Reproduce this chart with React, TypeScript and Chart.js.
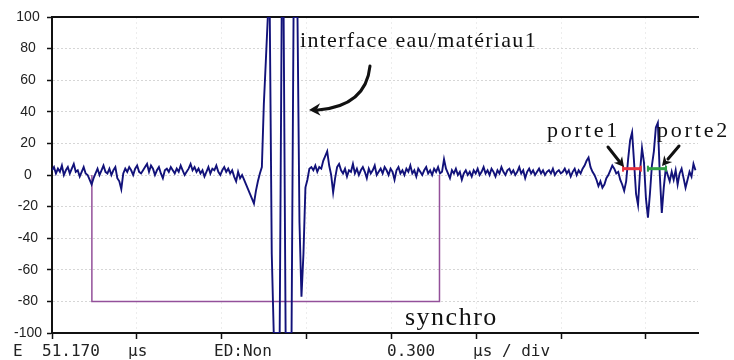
import React, { useEffect, useRef } from 'react';
import { Chart, registerables } from 'chart.js';

Chart.register(...registerables);

// ---- data ----
const startUs = 51.17;
const sampleStepUs = 0.007;
const endUs = 53.454;
const usPerDiv = 0.3;

const divisionTicks = [51.17, 51.47, 51.77, 52.07, 52.37, 52.67, 52.97, 53.27];
const amplitudeTicks = [-100, -80, -60, -40, -20, 0, 20, 40, 60, 80, 100];

// A-scan amplitude (%), one value per sample
const amplitude: number[] = [
  3, 5, 1, 4, 2, 6, 0, 3, 5, 1,
  4, 7, 2, 3, -1, 2, 5, 1, 0, -3,
  -6, -2, 1, 4, 0, 3, 6, 2, 1, 4,
  0, 3, 5, -2, -4, -9, 1, 4, 2, 5,
  3, 0, 4, 6, 2, 1, 3, 5, 7, 2,
  6, 4, 0, 3, 5, 1, -2, 3, 4, 2,
  5, 3, 1, 4, 2, 6, 3, 0, 2, 4,
  7, 3, 5, 2, 4, 1, 3, -1, 2, 5,
  1, 4, 3, 6, 2, 0, 3, 5, 2, 4,
  1, 3, -1, -4, 2,
  -2, 0, -3, -6, -9, -12, -15, -18, -10, -4,
  1, 5, 45, 72, 100, 100, -50, -100, -100, -100,
  -100, 100, 100, -100, -100, -100, -100, 100, 100, 100,
  -30, -77, -50, -8, -3, 4,
  5, 3, 6, 2, 5, 4, 9, 12, 15, 6,
  0, -11, -2, 5, 7, 3, 1, 4, -1, 3,
  2, 7, 1, 4, 0, 3, 5, 2, -2, 4,
  1, 3, 6, 0, 2, 4, 1, 5, 3, 0,
  4, 2, -3, 3, 5, 1, 3, 0, 4, 2,
  6, 1, 3, -1, 4, 2, 0, 3, 5, 1,
  3, 0, 4, 2, 5, 1, 2, 10, 4, 1,
  -2, 3, 1, 4, 0, 2, -3, 1, 3, 0,
  2, -1, 3, 1, 4, 0, 2, 5, 1, 3,
  0, 4, 2, -1, 3, 1, 5, 2, 0, 3,
  4, 1, 3, 0, 2, 5, 1, 3, -2, 2,
  4, 1, 3, 0, 2, 4, 1, 3, 0, 2,
  3, 1, 4, 0, 2, 3, 1,
  2, 4, 1, 3, -1, 2, 4, 0, 3, 1,
  4, 6, 9, 11, 5, 2, 0, -3, -7, -4,
  -8, -6, -2, 0, 3, 6, 4, 1, 2,
  -3, -6, -10, -4, 10, 22, 27, 8, -12, -19,
  2, 17, 8, -15, -27, -12, 6, 15, 30, 33,
  0, -24, -8, 4, 0, -4, 2, -3, 3, -6,
  1, 4, -2, -8, -3, 2, -1, 7, 3,
];

const synchroTimes = [51.311, 51.311, 52.54, 52.54];
const synchroLevels = [0, -80, -80, 0];

const porte1Times = [53.189, 53.252];
const porte2Times = [53.277, 53.341];
const gateLevel = 4;

const footerLabels = ['E', '51.170', 'µs', 'ED:Non', '0.300', 'µs / div'];

// ---- helpers ----
function arrowHead(ctx: CanvasRenderingContext2D, x: number, y: number, fromX: number, fromY: number, size: number) {
  const a = Math.atan2(y - fromY, x - fromX);
  ctx.beginPath();
  ctx.moveTo(x, y);
  ctx.lineTo(x - size * Math.cos(a - 0.5), y - size * Math.sin(a - 0.5));
  ctx.lineTo(x - size * 0.6 * Math.cos(a), y - size * 0.6 * Math.sin(a));
  ctx.lineTo(x - size * Math.cos(a + 0.5), y - size * Math.sin(a + 0.5));
  ctx.closePath();
  ctx.fill();
}

const annotationPlugin = {
  id: 'scopeAnnotations',
  afterDraw(chart: any) {
    const ctx: CanvasRenderingContext2D = chart.ctx;
    ctx.save();
    ctx.fillStyle = '#111';
    ctx.strokeStyle = '#111';
    ctx.textAlign = 'left';
    ctx.textBaseline = 'alphabetic';

    ctx.font = '22px "Liberation Serif", "Times New Roman", serif';
    (ctx as any).letterSpacing = '1.3px';
    ctx.fillText('interface eau/matériau1', 300, 47);
    ctx.font = '26px "Liberation Serif", "Times New Roman", serif';
    (ctx as any).letterSpacing = '1.5px';
    ctx.fillText('synchro', 405, 325);
    ctx.font = '22px "Liberation Serif", "Times New Roman", serif';
    (ctx as any).letterSpacing = '2.8px';
    ctx.fillText('porte1', 547, 137);
    ctx.fillText('porte2', 657, 137);
    (ctx as any).letterSpacing = '0px';

    // curved arrow to interface echo
    ctx.lineWidth = 3;
    ctx.lineCap = 'round';
    ctx.beginPath();
    ctx.moveTo(370, 66);
    ctx.quadraticCurveTo(366, 106, 318, 110);
    ctx.stroke();
    arrowHead(ctx, 309, 110, 330, 109, 13);

    // porte arrows
    ctx.beginPath();
    ctx.moveTo(608, 147);
    ctx.lineTo(619, 161);
    ctx.stroke();
    arrowHead(ctx, 624, 167, 608, 147, 11);
    ctx.beginPath();
    ctx.moveTo(679, 146);
    ctx.lineTo(668, 159);
    ctx.stroke();
    arrowHead(ctx, 662, 166, 679, 146, 11);

    // status line
    ctx.font = '16px "DejaVu Sans Mono", monospace';
    ctx.fillStyle = '#222';
    const xs = [13, 42, 128, 214, 387, 473];
    footerLabels.forEach((t, i) => ctx.fillText(t, xs[i], 356));
    ctx.restore();
  },
};

export default function App() {
  const ref = useRef<HTMLCanvasElement>(null);
  useEffect(() => {
    document.body.style.margin = '0';
    const trace = amplitude.map((v, i) => ({ x: startUs + i * sampleStepUs, y: v }));
    const synchro = synchroTimes.map((t, i) => ({ x: t, y: synchroLevels[i] }));
    const porte1 = porte1Times.map((t) => ({ x: t, y: gateLevel }));
    const porte2 = porte2Times.map((t) => ({ x: t, y: gateLevel }));
    const chart = new Chart(ref.current!, {
      type: 'line',
      data: {
        datasets: [
          {
            label: 'porte1', data: porte1, borderColor: '#e8333f', backgroundColor: '#e8333f',
            borderWidth: 3, pointStyle: 'line', pointRotation: 90, pointRadius: 3, pointBorderWidth: 2,
            pointBorderColor: '#e8333f', order: 0,
          },
          {
            label: 'porte2', data: porte2, borderColor: '#2f9e44', backgroundColor: '#2f9e44',
            borderWidth: 3, pointStyle: 'line', pointRotation: 90, pointRadius: 3, pointBorderWidth: 2,
            pointBorderColor: '#2f9e44', order: 0,
          },
          {
            label: 'signal', data: trace, borderColor: '#12127a', borderWidth: 1.9,
            pointRadius: 0, tension: 0, order: 1,
          },
          {
            label: 'synchro', data: synchro, borderColor: '#93509a', borderWidth: 1.5,
            pointRadius: 0, tension: 0, order: 2,
          },
        ],
      },
      options: {
        responsive: false,
        animation: false,
        events: [],
        layout: { padding: { left: 0, top: 17, right: 36, bottom: 0 } },
        plugins: { legend: { display: false }, tooltip: { enabled: false } },
        scales: {
          x: {
            type: 'linear',
            min: startUs,
            max: endUs,
            afterBuildTicks: (s: any) => { s.ticks = divisionTicks.map((v) => ({ value: v })); },
            ticks: { display: false, stepSize: usPerDiv },
            grid: { color: '#ededed', tickColor: '#111', tickLength: 6, lineWidth: 1, tickWidth: 1.5 },
            border: { display: true, color: '#111', width: 2, dash: [2, 3] },
            afterFit: (s: any) => { s.height = 27; },
          },
          x2: {
            type: 'linear',
            position: 'top',
            min: startUs,
            max: endUs,
            ticks: { display: false },
            grid: { display: false, drawTicks: false },
            border: { display: true, color: '#111', width: 2 },
            afterFit: (s: any) => { s.height = 0; },
          },
          y: {
            min: -100,
            max: 100,
            afterBuildTicks: (s: any) => { s.ticks = amplitudeTicks.map((v) => ({ value: v })); },
            ticks: {
              color: '#222', padding: 5, crossAlign: 'center',
              font: { family: '"Liberation Sans", Arial, sans-serif', size: 14 },
            },
            grid: { color: '#d6d6d6', tickColor: '#111', tickLength: 5, lineWidth: 1, tickWidth: 1.5 },
            border: { display: true, color: '#111', width: 2, dash: [2, 2] },
            afterFit: (s: any) => { s.width = 52; },
          },
        },
      },
      plugins: [annotationPlugin],
    } as any);
    return () => chart.destroy();
  }, []);
  return (
    <div style={{ position: 'absolute', left: 0, top: 0, width: 734, height: 360, background: '#fff' }}>
      <canvas ref={ref} width={734} height={360} style={{ display: 'block', width: 734, height: 360 }} />
    </div>
  );
}
